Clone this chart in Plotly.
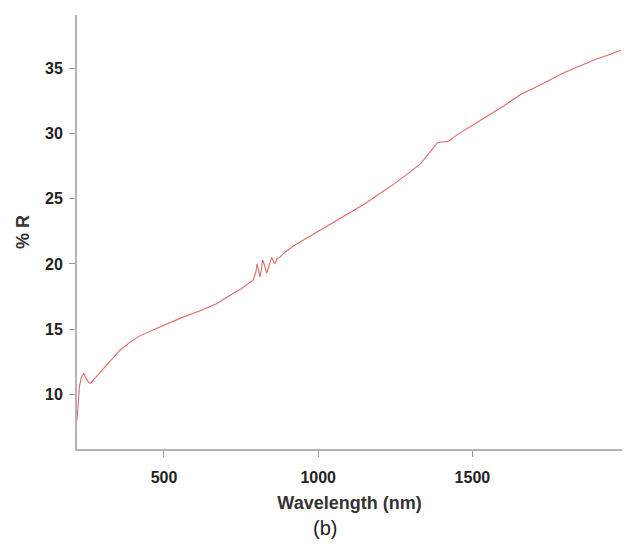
import plotly.graph_objects as go

# Reflectance spectrum
wavelength_nm = [218, 222, 226, 232, 240, 248, 256, 262, 275, 300, 330, 358, 390, 423,
                 460, 510, 560, 617, 670, 715, 750, 780, 790, 798, 802, 806, 811, 816,
                 820, 826, 833, 840, 849, 855, 859, 863, 866, 875, 892, 921, 985, 1050,
                 1100, 1150, 1200, 1250, 1300, 1332, 1360, 1386, 1400, 1422, 1450, 1500,
                 1525, 1600, 1656, 1700, 1750, 1800, 1850, 1900, 1950, 1981]
reflectance = [8.0, 9.6, 10.6, 11.3, 11.6, 11.2, 10.9, 10.85, 11.2, 11.9, 12.7, 13.4, 14.0, 14.5,
               14.9, 15.4, 15.9, 16.4, 16.95, 17.6, 18.1, 18.6, 18.8, 19.4, 20.0, 19.6, 19.0, 19.6,
               20.3, 19.9, 19.3, 19.8, 20.5, 20.2, 20.0, 20.2, 20.4, 20.5, 20.9, 21.4, 22.3, 23.2,
               23.9, 24.6, 25.4, 26.2, 27.1, 27.7, 28.5, 29.3, 29.35, 29.4, 29.9, 30.6,
               31.0, 32.1, 33.0, 33.5, 34.1, 34.7, 35.2, 35.7, 36.1, 36.4]

x_ticks = [500, 1000, 1500]
y_ticks = [10, 15, 20, 25, 30, 35]

FONT = "Liberation Sans, Arial"
tick_font = dict(family=FONT, size=16, color="#222", weight="bold")
title_font = dict(family=FONT, size=18, color="#333", weight="bold")

fig = go.Figure(go.Scatter(
    x=wavelength_nm, y=reflectance, mode="lines",
    line=dict(color="#e06a6a", width=1.1),
))

axis_common = dict(
    showline=True, linecolor="#b4b4b4", linewidth=2,
    ticks="outside", tickcolor="#9a9a9a", ticklen=6, tickwidth=1,
    showgrid=False, zeroline=False, mirror=False,
    tickfont=tick_font,
)

fig.update_xaxes(range=[218, 1985], tickvals=x_ticks, ticklabelstandoff=7,
                 title=dict(text="Wavelength (nm)", standoff=11, font=title_font),
                 **axis_common)
fig.update_yaxes(range=[5.8, 39.1], tickvals=y_ticks, ticklabelstandoff=3,
                 title=dict(text="% R", standoff=11, font=title_font),
                 **axis_common)

fig.add_annotation(text="(b)", xref="paper", yref="paper", x=0.455, y=-0.182,
                   showarrow=False, xanchor="center", yanchor="middle",
                   font=dict(family=FONT, size=20, color="#222"))

fig.update_layout(
    width=628, height=545,
    margin=dict(l=77, r=6, t=15, b=96),
    paper_bgcolor="white", plot_bgcolor="white",
    showlegend=False,
)

fig.write_html("out.html")
